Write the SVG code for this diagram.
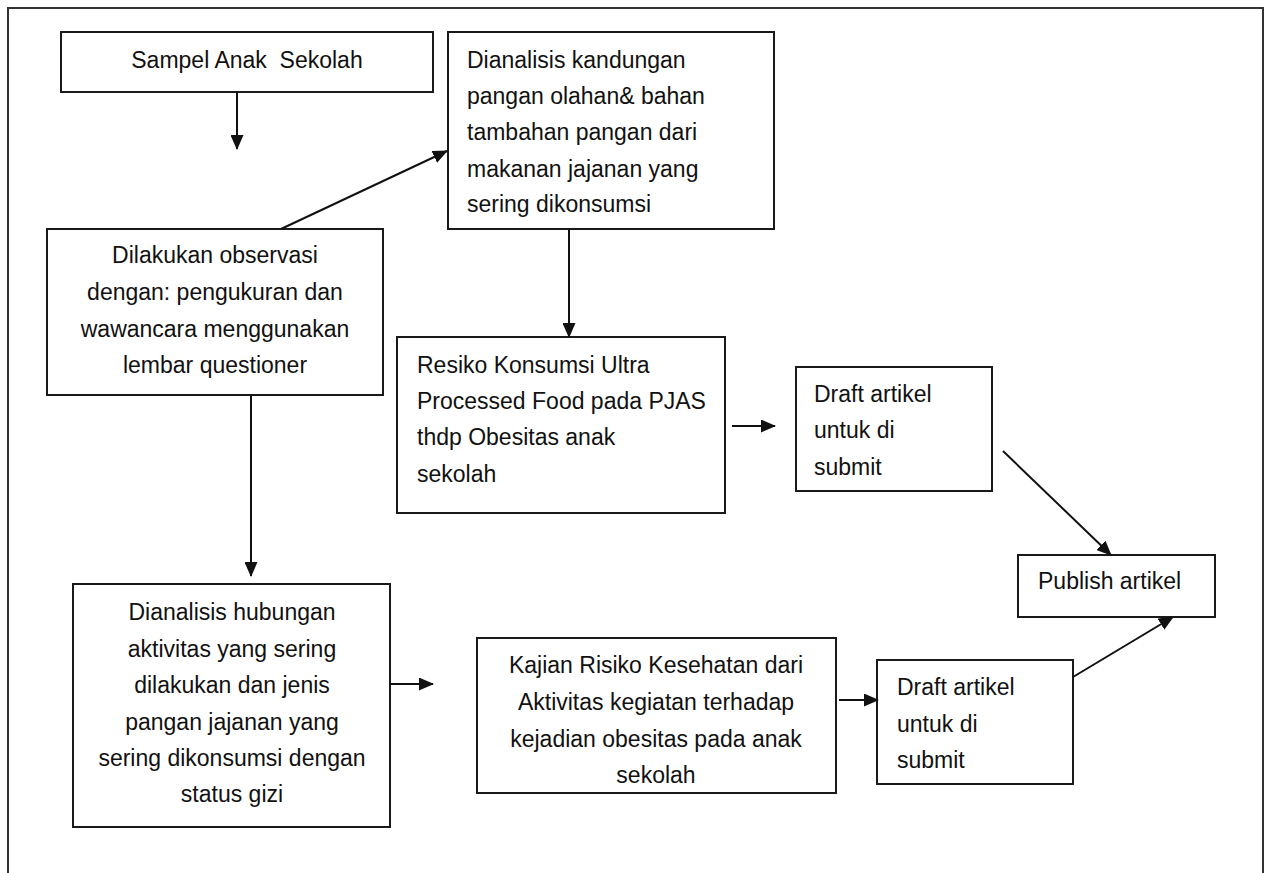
<svg xmlns="http://www.w3.org/2000/svg" width="1266" height="873" viewBox="0 0 1266 873">
<style>
  .box { fill: #fff; stroke: #1a1a1a; stroke-width: 2; }
  .t { font-family: "Liberation Sans", Arial, sans-serif; font-size: 23px; fill: #111; }
  .c { text-anchor: middle; }
  .ln { stroke: #111; stroke-width: 2; fill: none; marker-end: url(#ah); }
</style>
<defs>
  <marker id="ah" markerUnits="userSpaceOnUse" markerWidth="15" markerHeight="13" refX="14" refY="6.5" orient="auto">
    <path d="M0,0 L15,6.5 L0,13 Z" fill="#111"/>
  </marker>
</defs>
<rect x="0" y="0" width="1266" height="873" fill="#fff"/>
<rect x="8" y="8" width="1255" height="875" fill="none" stroke="#333" stroke-width="2"/>

<g id="n1">
  <rect class="box" x="61" y="32" width="372" height="60"/>
  <text class="t c" x="247" y="68" xml:space="preserve">Sampel Anak  Sekolah</text>
</g>
<g id="n2">
  <rect class="box" x="448" y="32" width="326" height="197"/>
  <text class="t" x="467" y="68">Dianalisis kandungan</text>
  <text class="t" x="467" y="104">pangan olahan&amp; bahan</text>
  <text class="t" x="467" y="140">tambahan pangan dari</text>
  <text class="t" x="467" y="177">makanan jajanan yang</text>
  <text class="t" x="467" y="212">sering dikonsumsi</text>
</g>
<g id="n3">
  <rect class="box" x="47" y="229" width="336" height="166"/>
  <text class="t c" x="215" y="263">Dilakukan observasi</text>
  <text class="t c" x="215" y="300">dengan: pengukuran dan</text>
  <text class="t c" x="215" y="337">wawancara menggunakan</text>
  <text class="t c" x="215" y="373">lembar questioner</text>
</g>
<g id="n4">
  <rect class="box" x="397" y="337" width="328" height="176"/>
  <text class="t" x="417" y="373">Resiko Konsumsi Ultra</text>
  <text class="t" x="417" y="409">Processed Food pada PJAS</text>
  <text class="t" x="417" y="445">thdp Obesitas anak</text>
  <text class="t" x="417" y="482">sekolah</text>
</g>
<g id="n5">
  <rect class="box" x="796" y="367" width="196" height="124"/>
  <text class="t" x="814" y="402">Draft artikel</text>
  <text class="t" x="814" y="438">untuk di</text>
  <text class="t" x="814" y="475">submit</text>
</g>
<g id="n6">
  <rect class="box" x="1018" y="555" width="197" height="62"/>
  <text class="t" x="1038" y="589">Publish artikel</text>
</g>
<g id="n7">
  <rect class="box" x="73" y="584" width="317" height="243"/>
  <text class="t c" x="232" y="620">Dianalisis hubungan</text>
  <text class="t c" x="232" y="657">aktivitas yang sering</text>
  <text class="t c" x="232" y="693">dilakukan dan jenis</text>
  <text class="t c" x="232" y="730">pangan jajanan yang</text>
  <text class="t c" x="232" y="766">sering dikonsumsi dengan</text>
  <text class="t c" x="232" y="802">status gizi</text>
</g>
<g id="n8">
  <rect class="box" x="477" y="638" width="359" height="155"/>
  <text class="t c" x="656" y="673">Kajian Risiko Kesehatan dari</text>
  <text class="t c" x="656" y="710">Aktivitas kegiatan terhadap</text>
  <text class="t c" x="656" y="747">kejadian obesitas pada anak</text>
  <text class="t c" x="656" y="783">sekolah</text>
</g>
<g id="n9">
  <rect class="box" x="877" y="660" width="196" height="124"/>
  <text class="t" x="897" y="695">Draft artikel</text>
  <text class="t" x="897" y="732">untuk di</text>
  <text class="t" x="897" y="768">submit</text>
</g>

<g id="connectors">
  <line class="ln" x1="237" y1="92" x2="237" y2="149"/>
  <line class="ln" x1="281" y1="229" x2="447" y2="151"/>
  <line class="ln" x1="569" y1="229" x2="569" y2="337"/>
  <line class="ln" x1="251" y1="395" x2="251" y2="576"/>
  <line class="ln" x1="732" y1="426" x2="775" y2="426"/>
  <line class="ln" x1="1003" y1="451" x2="1111" y2="555"/>
  <line class="ln" x1="390" y1="684" x2="433" y2="684"/>
  <line class="ln" x1="839" y1="700" x2="878" y2="700"/>
  <line class="ln" x1="1073" y1="677" x2="1173" y2="617"/>
</g>
</svg>
